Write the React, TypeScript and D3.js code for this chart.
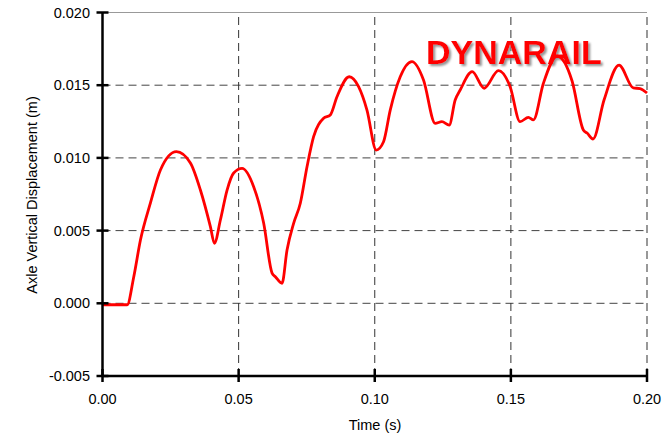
import React from "react";
import * as d3 from "d3";

const timeValues = [
  0, 0.00906, 0.01149, 0.01394, 0.01761, 0.02128, 0.02715, 0.03229, 0.03596, 0.03963,
  0.0411, 0.0433, 0.04576, 0.04818, 0.05127, 0.05552, 0.05919, 0.06228, 0.06349, 0.06594,
  0.06778, 0.0702, 0.07266, 0.07512, 0.07754, 0.08121, 0.08367, 0.08613, 0.09064, 0.09406,
  0.09714, 0.10055, 0.10323, 0.10569, 0.10936, 0.11365, 0.11791, 0.1222, 0.12466, 0.12734,
  0.12954, 0.13138, 0.13578, 0.14018, 0.14543, 0.14972, 0.15339, 0.15644, 0.15827, 0.16195,
  0.16697, 0.17248, 0.17662, 0.17798, 0.18018, 0.18422, 0.18972, 0.19497, 0.19743, 0.2,
];

const displacementValues = [
  -0.0001, -0.0001, 0.00183, 0.00435, 0.0069, 0.00917, 0.01043, 0.00965, 0.00779, 0.00527,
  0.00413, 0.00573, 0.00779, 0.00896, 0.00928, 0.00802, 0.00552, 0.00208, 0.00183, 0.00138,
  0.00367, 0.0055, 0.00688, 0.00939, 0.01146, 0.01272, 0.01295, 0.01421, 0.01558, 0.0149,
  0.01329, 0.01054, 0.01111, 0.01329, 0.01558, 0.01662, 0.01536, 0.01238, 0.01249, 0.01226,
  0.01398, 0.01467, 0.01593, 0.01479, 0.016, 0.0149, 0.01249, 0.01279, 0.01261, 0.01513,
  0.01701, 0.01529, 0.01192, 0.01171, 0.0113, 0.01398, 0.01638, 0.01481, 0.01477, 0.01446,
];

const xTicks = [0, 0.05, 0.1, 0.15, 0.2];
const yTicks = [-0.005, 0, 0.005, 0.01, 0.015, 0.02];
const xTickLabels = ["0.00", "0.05", "0.10", "0.15", "0.20"];
const yTickLabels = ["-0.005", "0.000", "0.005", "0.010", "0.015", "0.020"];
const xTitle = "Time (s)";
const yTitle = "Axle Vertical Displacement (m)";
const watermark = "DYNARAIL";

export default function App() {
  const W = 668;
  const H = 435;
  const x = d3.scaleLinear().domain([0, 0.2]).range([102.5, 647]);
  const y = d3.scaleLinear().domain([-0.005, 0.02]).range([376, 12.5]);
  const points = timeValues.map((t, i) => [t, displacementValues[i]] as [number, number]);
  const line = d3
    .line<[number, number]>()
    .x((d) => x(d[0]))
    .y((d) => y(d[1]))
    .curve(d3.curveMonotoneX);
  const font = "'Liberation Sans', Arial, sans-serif";
  const [x0, x1] = x.range();
  const [yb, yt] = y.range();

  return (
    <svg
      width={W}
      height={H}
      style={{ position: "absolute", left: 0, top: 0, background: "#fff" }}
      fontFamily={font}
    >
      <defs>
        <filter id="shadow" x="-10%" y="-30%" width="130%" height="170%">
          <feDropShadow dx="2" dy="2" stdDeviation="1.2" floodColor="#888" floodOpacity="0.9" />
        </filter>
      </defs>
      <rect width={W} height={H} fill="#fff" />
      {/* grid */}
      {yTicks.slice(1, -1).map((v) => (
        <line key={"gy" + v} x1={x0} x2={x1} y1={y(v)} y2={y(v)} stroke="#444" strokeWidth={1} strokeDasharray="8,5" />
      ))}
      {xTicks.slice(1, -1).map((v) => (
        <line key={"gx" + v} x1={x(v)} x2={x(v)} y1={yb} y2={yt} stroke="#333" strokeWidth={1} strokeDasharray="8,5" />
      ))}
      <line x1={x0} x2={x1} y1={yt} y2={yt} stroke="#999" strokeWidth={1} />
      <line x1={x1} x2={x1} y1={yb} y2={yt} stroke="#777" strokeWidth={1.5} strokeDasharray="8,5" />
      {/* watermark */}
      <text
        x={426}
        y={64}
        fontSize={34}
        fontWeight="bold"
        fill="#ff0000"
        filter="url(#shadow)"
      >
        {watermark}
      </text>
      {/* data line */}
      <path d={line(points) || ""} fill="none" stroke="#ff0000" strokeWidth={2.8} strokeLinejoin="round" />
      {/* axes */}
      <line x1={x0} x2={x0} y1={yb} y2={yt} stroke="#000" strokeWidth={2.5} />
      <line x1={x0} x2={x1} y1={yb} y2={yb} stroke="#000" strokeWidth={2.5} />
      {yTicks.map((v, i) => (
        <g key={"ty" + v}>
          <line x1={x0 - 6} x2={x0 + 6} y1={y(v)} y2={y(v)} stroke="#000" strokeWidth={2.5} />
          <text x={90} y={y(v)} dy="0.35em" textAnchor="end" fontSize={14.5} fill="#000">
            {yTickLabels[i]}
          </text>
        </g>
      ))}
      {xTicks.map((v, i) => (
        <g key={"tx" + v}>
          <line x1={x(v)} x2={x(v)} y1={yb - 7} y2={yb + 6} stroke="#000" strokeWidth={2.5} />
          <text x={x(v)} y={404} textAnchor="middle" fontSize={14.5} fill="#000">
            {xTickLabels[i]}
          </text>
        </g>
      ))}
      <text x={375} y={430} textAnchor="middle" fontSize={14.5} fill="#000">
        {xTitle}
      </text>
      <text
        transform={`translate(37, 195) rotate(-90)`}
        textAnchor="middle"
        fontSize={14.5}
        fill="#000"
      >
        {yTitle}
      </text>
    </svg>
  );
}
